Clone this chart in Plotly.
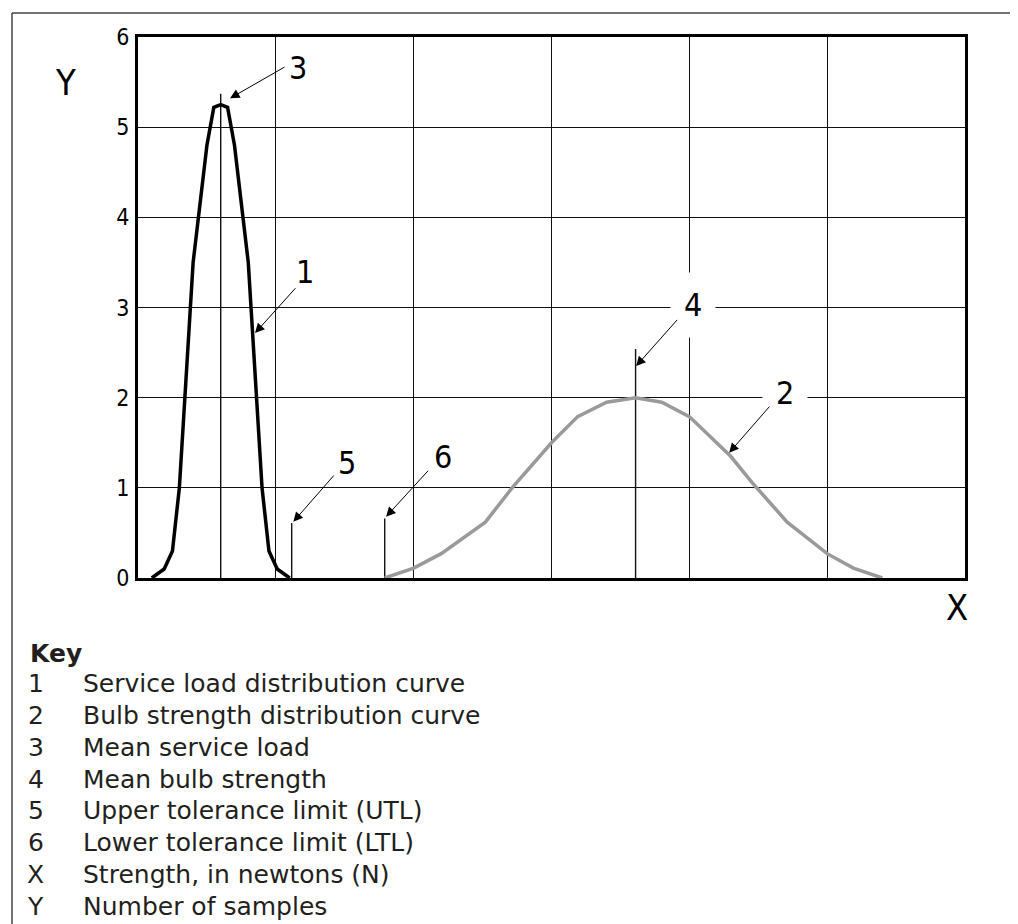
import plotly.graph_objects as go

# ---------------- data ----------------
# curve 1: service load distribution (x in grid units, y = number of samples)
load_x = [0.10, 0.19, 0.25, 0.30, 0.40, 0.50, 0.55, 0.60, 0.65, 0.70, 0.80, 0.90, 0.95, 1.01, 1.10]
load_y = [0.00, 0.10, 0.30, 1.00, 3.50, 4.80, 5.22, 5.25, 5.22, 4.80, 3.50, 1.00, 0.30, 0.10, 0.00]

# curve 2: bulb strength distribution
bulb_x = [1.79, 2.00, 2.20, 2.52, 2.72, 3.00, 3.19, 3.40, 3.61, 3.80, 4.00, 4.15, 4.30, 4.46, 4.71, 5.00, 5.19, 5.40]
bulb_y = [0.00, 0.11, 0.27, 0.62, 1.01, 1.50, 1.79, 1.95, 2.00, 1.95, 1.79, 1.57, 1.35, 1.05, 0.62, 0.27, 0.11, 0.00]

# reference lines: mean load (3), UTL (5), LTL (6), mean strength (4)
ref_x = [0.60, 1.115, 1.79, 3.61]
ref_top = [5.37, 0.61, 0.66, 2.54]

y_ticks = [0, 1, 2, 3, 4, 5, 6]
x_grid = [0, 1, 2, 3, 4, 5, 6]

# callouts: label, text position, arrow tail, arrow tip, white background
callouts = [
    ("3", (1.161, 5.654), (1.074, 5.676), (0.668, 5.320), False),
    ("1", (1.212, 3.392), (1.152, 3.230), (0.849, 2.716), False),
    ("5", (1.515, 1.272), (1.430, 1.153), (1.127, 0.624), False),
    ("6", (2.211, 1.338), (2.114, 1.205), (1.800, 0.680), False),
    ("4", (4.025, 3.027), (3.921, 2.879), (3.614, 2.350), True),
    ("2", (4.695, 2.054), (4.591, 1.918), (4.289, 1.389), True),
]

key_items = [
    ("1", "Service load distribution curve"),
    ("2", "Bulb strength distribution curve"),
    ("3", "Mean service load"),
    ("4", "Mean bulb strength"),
    ("5", "Upper tolerance limit (UTL)"),
    ("6", "Lower tolerance limit (LTL)"),
    ("X", "Strength, in newtons (N)"),
    ("Y", "Number of samples"),
]

# ---------------- layout geometry ----------------
OFF = 8  # page body margin
W, H = 1018 - OFF, 924 - OFF
L, R, T, B = 138 - OFF, 965 - OFF, 37 - OFF, 578 - OFF  # plot area in figure pixels
TECH = "DejaVu Sans Condensed, Liberation Sans Narrow, DejaVu Sans, sans-serif"
KEYF = "DejaVu Sans, Verdana, sans-serif"
KEYC = "#231f20"


def px(xp):
    """reference page x pixel -> paper coordinate"""
    return (xp - OFF - L) / (R - L)


def py(yp):
    """reference page y pixel -> paper coordinate"""
    return (B - (yp - OFF)) / (B - T)


fig = go.Figure()

for xv, top in zip(ref_x, ref_top):
    fig.add_trace(go.Scatter(x=[xv, xv], y=[0, top], mode="lines",
                             line=dict(color="#111111", width=1.4),
                             hoverinfo="skip", showlegend=False))

fig.add_trace(go.Scatter(x=bulb_x, y=bulb_y, mode="lines",
                         line=dict(color="#9a9a9a", width=3.5),
                         showlegend=False))
fig.add_trace(go.Scatter(x=load_x, y=load_y, mode="lines",
                         line=dict(color="#000000", width=3.5),
                         showlegend=False))

annotations = []
for lab, tpos, tail, tip, bg in callouts:
    annotations.append(dict(
        x=tpos[0], y=tpos[1], xref="x", yref="y", text=lab, showarrow=False,
        font=dict(family=TECH, size=32, color="#000000", weight=300),
        bgcolor="white" if bg else None, borderpad=13 if bg else 0,
        xanchor="center", yanchor="middle"))
for lab, tpos, tail, tip, bg in callouts:
    annotations.append(dict(
        x=tip[0], y=tip[1], xref="x", yref="y",
        ax=tail[0], ay=tail[1], axref="x", ayref="y",
        text="", showarrow=True, arrowhead=2, arrowsize=1.9,
        arrowwidth=1.0, arrowcolor="#000000", standoff=0, startstandoff=0))

# axis letters
annotations.append(dict(x=px(65), y=py(82), xref="paper", yref="paper", text="Y",
                        showarrow=False, font=dict(family=TECH, size=36, color="#000", weight=300),
                        xanchor="center", yanchor="middle"))
annotations.append(dict(x=px(957), y=py(607), xref="paper", yref="paper", text="X",
                        showarrow=False, font=dict(family=TECH, size=36, color="#000", weight=300),
                        xanchor="center", yanchor="middle"))

# key
annotations.append(dict(x=px(28), y=py(653), xref="paper", yref="paper", text="<b>Key</b>",
                        showarrow=False, font=dict(family=KEYF, size=25, color=KEYC),
                        xanchor="left", yanchor="middle"))
for i, (k, desc) in enumerate(key_items):
    yc = 683.3 + i * 31.9
    annotations.append(dict(x=px(35.5), y=py(yc), xref="paper", yref="paper", text=k,
                            showarrow=False, font=dict(family=KEYF, size=25, color=KEYC),
                            xanchor="center", yanchor="middle"))
    annotations.append(dict(x=px(81), y=py(yc), xref="paper", yref="paper", text=desc,
                            showarrow=False, font=dict(family=KEYF, size=25, color=KEYC),
                            xanchor="left", yanchor="middle"))

shapes = [
    dict(type="line", xref="paper", yref="paper", x0=px(12), x1=px(1030), y0=py(13), y1=py(13),
         line=dict(color="#444444", width=1.5)),
    dict(type="line", xref="paper", yref="paper", x0=px(12), x1=px(12), y0=py(13), y1=py(940),
         line=dict(color="#444444", width=1.5)),
]

fig.update_layout(
    width=W, height=H, autosize=False,
    margin=dict(l=L, r=W - R, t=T, b=H - B),
    paper_bgcolor="white", plot_bgcolor="white",
    annotations=annotations, shapes=shapes,
    xaxis=dict(range=[x_grid[0], x_grid[-1]], tickvals=x_grid, showticklabels=False,
               showgrid=True, gridcolor="#111111", gridwidth=1.3, zeroline=False,
               showline=True, mirror=True, linecolor="#000000", linewidth=3, ticks=""),
    yaxis=dict(range=[y_ticks[0], y_ticks[-1]], tickvals=y_ticks,
               tickfont=dict(family=TECH, size=23, color="#000", weight=300),
               showgrid=True, gridcolor="#111111", gridwidth=1.3, zeroline=False,
               showline=True, mirror=True, linecolor="#000000", linewidth=3, ticks="",
               ticklabelstandoff=1),
    showlegend=False,
)

fig.write_html("out.html")
